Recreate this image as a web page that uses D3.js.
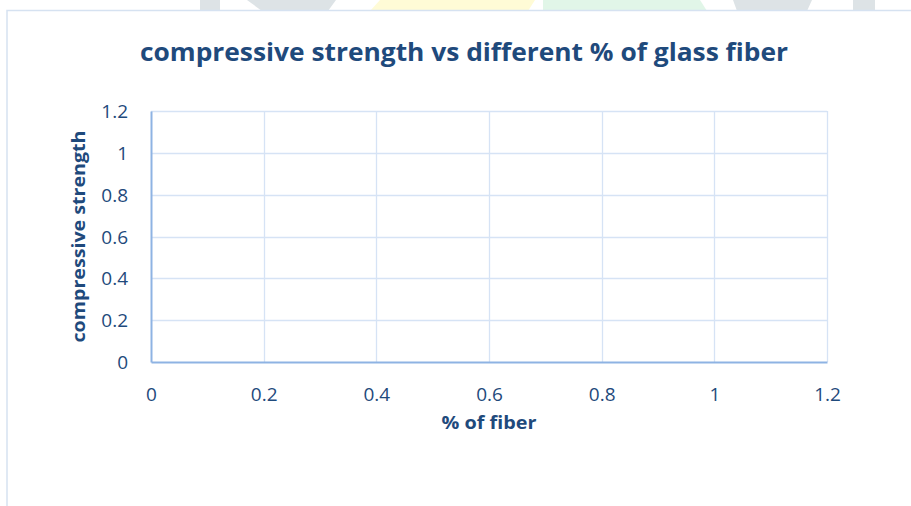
<!DOCTYPE html>
<html>
<head>
<meta charset="utf-8">
<script src="https://cdn.jsdelivr.net/npm/d3@7"></script>
<style>
html,body{margin:0;padding:0;background:#fff;}
svg{display:block;}
text{font-family:"Open Sans","Noto Sans",sans-serif;}
</style>
</head>
<body>
<svg id="chart" width="911" height="506"></svg>
<script>
// ---- data (the reference chart plots no points) ----
const titleText = "compressive strength vs different % of glass fiber";
const xAxisTitle = "% of fiber";
const yAxisTitle = "compressive strength";
const fiberPercent = [];          // x values (none plotted)
const strengthValues = [];        // y values (none plotted)
const xTickValues = [0, 0.2, 0.4, 0.6, 0.8, 1, 1.2];
const yTickValues = [0, 0.2, 0.4, 0.6, 0.8, 1, 1.2];
const xDomain = [0, 1.2];
const yDomain = [0, 1.2];

const svg = d3.select("#chart");
const W = 911, H = 506;
const textColor = "#1f4a7c";
const font = "'Open Sans','Noto Sans',sans-serif";

// watermark background shapes above chart area
const wm = svg.append("g");
wm.append("rect").attr("x",200).attr("y",0).attr("width",20).attr("height",11).attr("fill","#dde3e6");
wm.append("polygon").attr("points","247,0 336,0 328,11 262,11").attr("fill","#dde3e6");
wm.append("polygon").attr("points","380,0 535,0 528,11 370,11").attr("fill","#fffbd6");
wm.append("polygon").attr("points","543,0 700,0 707,11 543,11").attr("fill","#e1f6e8");
wm.append("polygon").attr("points","733,0 812,0 807,11 737,11").attr("fill","#dde3e6");
wm.append("rect").attr("x",853).attr("y",0).attr("width",22).attr("height",11).attr("fill","#dde3e6");

// chart area
svg.append("rect").attr("x",7).attr("y",10.5).attr("width",W).attr("height",H)
  .attr("fill","#fff").attr("stroke","#d6e2f1").attr("stroke-width",1.5);

const plot = {left:151, right:827, top:111, bottom:362};
const x = d3.scaleLinear().domain(xDomain).range([plot.left, plot.right]);
const y = d3.scaleLinear().domain(yDomain).range([plot.bottom, plot.top]);

// gridlines
const g = svg.append("g");
g.selectAll(".hg").data(yTickValues.filter(v=>v>0)).join("line")
  .attr("x1",plot.left).attr("x2",plot.right)
  .attr("y1",d=>Math.round(y(d))+0.5).attr("y2",d=>Math.round(y(d))+0.5)
  .attr("stroke","#d6e3f5").attr("stroke-width",1.3);
g.selectAll(".vg").data(xTickValues.filter(v=>v>0)).join("line")
  .attr("x1",d=>Math.round(x(d))+0.5).attr("x2",d=>Math.round(x(d))+0.5)
  .attr("y1",plot.top).attr("y2",plot.bottom)
  .attr("stroke","#d6e3f5").attr("stroke-width",1.3);

// axes via d3
const xAxis = d3.axisBottom(x).tickValues(xTickValues).tickSize(0).tickPadding(0)
  .tickFormat(d=>String(d));
const yAxis = d3.axisLeft(y).tickValues(yTickValues).tickSize(0).tickPadding(0)
  .tickFormat(d=>String(d));

const gx = svg.append("g").attr("transform",`translate(0,${plot.bottom})`).call(xAxis);
gx.select(".domain").attr("stroke","#8eb3e3").attr("stroke-width",2);
gx.selectAll("text").attr("fill",textColor).attr("font-size",19)
  .attr("font-family",font).attr("y",32).attr("dy","0.35em");

const gy = svg.append("g").attr("transform",`translate(${plot.left},0)`).call(yAxis);
gy.select(".domain").attr("stroke","#8eb3e3").attr("stroke-width",2);
gy.selectAll("text").attr("fill",textColor).attr("font-size",19)
  .attr("font-family",font).attr("x",-23).attr("dy","0.35em");

// (no data marks: series arrays are empty)
svg.append("g").selectAll("circle").data(fiberPercent.map((d,i)=>[d,strengthValues[i]])).join("circle")
  .attr("cx",d=>x(d[0])).attr("cy",d=>y(d[1])).attr("r",4).attr("fill","#4472c4");

// title
svg.append("text").attr("x",464).attr("y",61).attr("text-anchor","middle")
  .attr("fill",textColor).attr("font-size",24.5).attr("font-weight","bold")
  .attr("textLength",648).attr("lengthAdjust","spacingAndGlyphs")
  .text(titleText);

// axis titles
svg.append("text").attr("x",(plot.left+plot.right)/2).attr("y",429).attr("text-anchor","middle")
  .attr("fill",textColor).attr("font-size",18).attr("font-weight","bold")
  .attr("textLength",95).attr("lengthAdjust","spacingAndGlyphs")
  .text(xAxisTitle);

svg.append("text").attr("transform",`translate(85,${(plot.top+plot.bottom)/2}) rotate(-90)`)
  .attr("text-anchor","middle")
  .attr("fill",textColor).attr("font-size",18).attr("font-weight","bold")
  .attr("textLength",212).attr("lengthAdjust","spacingAndGlyphs")
  .text(yAxisTitle);
</script>
</body>
</html>
